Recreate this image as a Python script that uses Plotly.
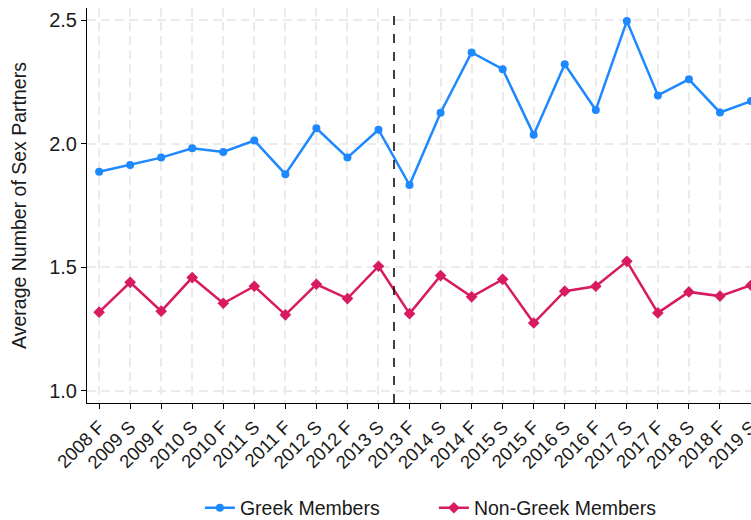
import plotly.graph_objects as go

terms = ["2008 F", "2009 S", "2009 F", "2010 S", "2010 F", "2011 S", "2011 F",
         "2012 S", "2012 F", "2013 S", "2013 F", "2014 S", "2014 F", "2015 S",
         "2015 F", "2016 S", "2016 F", "2017 S", "2017 F", "2018 S", "2018 F", "2019 S"]

greek = [1.887, 1.914, 1.944, 1.982, 1.967, 2.013, 1.877, 2.063, 1.944, 2.057,
         1.833, 2.126, 2.370, 2.302, 2.037, 2.322, 2.137, 2.497, 2.196, 2.261,
         2.127, 2.173]

non_greek = [1.318, 1.439, 1.322, 1.458, 1.354, 1.423, 1.307, 1.431, 1.373, 1.504,
             1.312, 1.466, 1.380, 1.451, 1.274, 1.403, 1.423, 1.524, 1.315, 1.400,
             1.383, 1.427]

y_ticks = [1.0, 1.5, 2.0, 2.5]
policy_break = 9.5

BLUE = "#1e88ff"
PINK = "#d81b60"
GRID = "#ebebeb"
FONT = "Liberation Sans, Arial, sans-serif"

fig = go.Figure()
fig.add_trace(go.Scatter(
    x=terms, y=greek, mode="lines+markers", name="Greek Members",
    line=dict(color=BLUE, width=2.5),
    marker=dict(symbol="circle", size=8, color=BLUE),
))
fig.add_trace(go.Scatter(
    x=terms, y=non_greek, mode="lines+markers", name="Non-Greek Members",
    line=dict(color=PINK, width=2.5),
    marker=dict(symbol="diamond", size=9, color=PINK),
))

fig.add_shape(type="line", xref="x", yref="paper", x0=policy_break, x1=policy_break,
              y0=0, y1=1, line=dict(color="black", width=1.5, dash="dash"))

fig.update_layout(
    width=751, height=520,
    margin=dict(l=87, r=0, t=8, b=117, autoexpand=False),
    paper_bgcolor="white", plot_bgcolor="white",
    font=dict(family=FONT, color="#1a1a1a", size=19.5),
    showlegend=True,
    legend=dict(orientation="h", x=0.17, xanchor="left", y=-0.266, yanchor="middle",
                font=dict(size=19.5), entrywidth=189, entrywidthmode="pixels",
                tracegroupgap=0),
)
fig.update_xaxes(
    type="category", categoryorder="array", categoryarray=terms,
    range=[-0.39, 21.0], tickangle=-45, tickfont=dict(size=18.5),
    automargin=False,
    showline=True, linecolor="black", linewidth=1,
    ticks="outside", ticklen=5, tickcolor="black",
    showgrid=True, gridcolor=GRID, griddash="9px,5px", gridwidth=1.5,
    zeroline=False,
)
fig.update_yaxes(
    range=[0.95, 2.55], tickvals=y_ticks, tickformat=".1f", tickfont=dict(size=20),
    automargin=False,
    title=dict(text="Average Number of Sex Partners", font=dict(size=19.5), standoff=17),
    showline=True, linecolor="black", linewidth=1,
    ticks="outside", ticklen=5, tickcolor="black",
    showgrid=True, gridcolor=GRID, griddash="9px,5px", gridwidth=1.5,
    zeroline=False,
)

fig.write_html("out.html")
